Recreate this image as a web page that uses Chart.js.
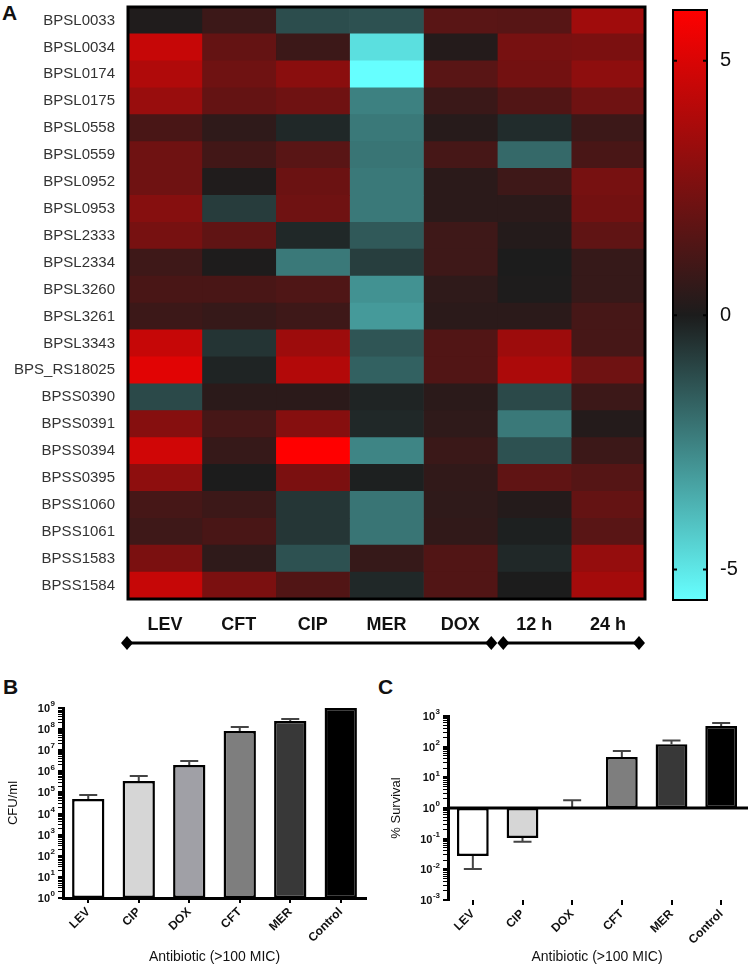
<!DOCTYPE html>
<html>
<head>
<meta charset="utf-8">
<script src="https://cdn.jsdelivr.net/npm/chart.js@4.4.1/dist/chart.umd.min.js"></script>
<style>
  body { margin: 0; background: #fff; }
  #wrap { position: relative; width: 750px; height: 968px; overflow: hidden; font-family: "Liberation Sans", Arial, sans-serif; }
  .panel { position: absolute; font-weight: bold; font-size: 21px; line-height: 21px; color: #111; }
  canvas { position: absolute; }
</style>
</head>
<body>
<div id="wrap">
  <div class="panel" style="left:2px;top:2px">A</div>
  <div class="panel" style="left:3px;top:676px">B</div>
  <div class="panel" style="left:378px;top:676px">C</div>
  <canvas id="heat" width="660" height="660" style="left:0;top:0"></canvas>
  <canvas id="cbar" width="90" height="620" style="left:660px;top:0"></canvas>
  <canvas id="chartB" width="375" height="288" style="left:0;top:680px"></canvas>
  <canvas id="chartC" width="375" height="288" style="left:375px;top:680px"></canvas>
</div>
<script>
// Heatmap (log2 fold change)
const genes = ['BPSL0033', 'BPSL0034', 'BPSL0174', 'BPSL0175', 'BPSL0558', 'BPSL0559', 'BPSL0952', 'BPSL0953',
  'BPSL2333', 'BPSL2334', 'BPSL3260', 'BPSL3261', 'BPSL3343', 'BPS_RS18025', 'BPSS0390', 'BPSS0391',
  'BPSS0394', 'BPSS0395', 'BPSS1060', 'BPSS1061', 'BPSS1583', 'BPSS1584'];
const conditions = ['LEV', 'CFT', 'CIP', 'MER', 'DOX', '12 h', '24 h'];
const lev = [0.1, 4.5, 3.9, 3.3, 1.2, 2.2, 2.2, 2.8, 2.4, 0.9, 1.2, 0.85, 4.5, 5.2, -1.1, 2.8, 4.75, 3.0, 1.1, 0.9, 2.5, 4.5];
const cft = [0.85, 1.9, 2.2, 1.9, 0.5, 1.0, 0.1, -0.8, 1.8, 0.05, 1.2, 0.7, -0.6, -0.2, 0.4, 1.1, 0.7, 0.0, 0.85, 1.2, 0.5, 2.5];
const cip = [-1.2, 0.85, 2.9, 2.2, -0.3, 1.6, 2.1, 2.2, -0.3, -2.3, 1.35, 0.9, 3.4, 4.0, 0.4, 2.8, 6.0, 2.5, -0.65, -0.65, -1.3, 1.4];
const mer = [-1.3, -4.8, -5.6, -2.5, -2.3, -2.2, -2.3, -2.3, -1.5, -0.85, -2.9, -3.1, -1.4, -1.7, -0.2, -0.3, -2.6, -0.1, -2.2, -2.2, 0.7, -0.3];
const dox = [1.6, 0.2, 1.6, 0.8, 0.3, 1.1, 0.4, 0.4, 0.9, 0.9, 0.5, 0.4, 1.4, 1.4, 0.4, 0.5, 0.8, 0.55, 0.5, 0.55, 1.4, 1.4];
const h12 = [1.55, 2.4, 2.3, 1.4, -0.4, -1.9, 0.9, 0.4, 0.2, 0.0, 0.05, 0.4, 3.4, 3.8, -1.1, -2.3, -1.3, 1.8, 0.2, -0.1, -0.3, 0.0];
const h24 = [3.5, 2.5, 3.0, 2.2, 0.85, 1.2, 2.4, 2.3, 1.8, 0.7, 0.7, 1.1, 1.1, 2.2, 0.85, 0.2, 0.85, 1.5, 1.9, 1.6, 3.2, 3.6];
const heatColumns = [lev, cft, cip, mer, dox, h12, h24];

// Color scale
const cbMin = -5.6, cbMax = 6;
const cbTicks = [-5, 0, 5];

// Panel B: CFU/ml
const drugsB = ['LEV', 'CIP', 'DOX', 'CFT', 'MER', 'Control'];
const cfuMean = [4.9e4, 3.5e5, 2.0e6, 8.2e7, 2.4e8, 1e9];
const cfuErr = [7.6e4, 6.0e5, 3.1e6, 1.26e8, 3.0e8, 1e9];

// Panel C: % survival
const drugsC = ['LEV', 'CIP', 'DOX', 'CFT', 'MER', 'Control'];
const survMean = [0.027, 0.105, 1.0, 46, 121, 470];
const survErr = [0.0103, 0.079, 1.8, 72, 160, 590];

const barGreys = ['#ffffff', '#d6d6d6', '#a0a0a6', '#7e7e7e', '#383838', '#000000'];

const FONT = '"Liberation Sans", Arial, sans-serif';
Chart.defaults.font.family = FONT;
Chart.defaults.color = '#111';
Chart.defaults.animation = false;

function mix(a, b, t) { return Math.round(a + (b - a) * t); }
function heatColor(v) {
  if (v >= 0) {
    const t = Math.min(v / cbMax, 1);
    return `rgb(${mix(28, 255, t)},${mix(28, 0, t)},${mix(28, 0, t)})`;
  }
  const t = Math.min(v / cbMin, 1);
  return `rgb(${mix(28, 102, t)},${mix(28, 255, t)},${mix(28, 255, t)})`;
}
function noPad(sc) { sc.paddingTop = 0; sc.paddingBottom = 0; }

// ---- heatmap ----
const heatFrame = {
  id: 'heatFrame',
  afterDatasetsDraw(chart) {
    const { ctx, chartArea: a } = chart;
    ctx.save();
    ctx.strokeStyle = '#000';
    ctx.lineWidth = 3;
    ctx.strokeRect(a.left, a.top, a.right - a.left, a.bottom - a.top);
    ctx.restore();
  },
  afterDraw(chart) {
    const { ctx } = chart;
    const x = chart.scales.x;
    const y = 643;
    const p0 = x.getPixelForValue(0) - 1, p5 = x.getPixelForValue(5), p7 = x.getPixelForValue(7) - 6;
    ctx.save();
    ctx.strokeStyle = '#000';
    ctx.fillStyle = '#000';
    ctx.lineWidth = 3;
    ctx.beginPath();
    ctx.moveTo(p0, y); ctx.lineTo(p5 - 6, y);
    ctx.moveTo(p5 + 6, y); ctx.lineTo(p7, y);
    ctx.stroke();
    [p0, p5 - 6, p5 + 6, p7].forEach(cx => {
      ctx.beginPath();
      ctx.moveTo(cx, y - 7); ctx.lineTo(cx + 6, y); ctx.lineTo(cx, y + 7); ctx.lineTo(cx - 6, y);
      ctx.closePath();
      ctx.fill();
    });
    ctx.restore();
  }
};

new Chart(document.getElementById('heat'), {
  type: 'bar',
  data: {
    labels: genes,
    datasets: heatColumns.map((col, j) => ({
      label: conditions[j],
      data: genes.map(() => 1),
      backgroundColor: col.map(heatColor),
      borderWidth: 0,
      barPercentage: 1,
      categoryPercentage: 1
    }))
  },
  options: {
    indexAxis: 'y',
    responsive: false,
    devicePixelRatio: 1,
    layout: { padding: { top: 7, right: 15, left: 0, bottom: 0 } },
    plugins: { legend: { display: false }, tooltip: { enabled: false } },
    scales: {
      x: {
        type: 'linear', stacked: true, min: 0, max: 7,
        afterBuildTicks: sc => { sc.ticks = conditions.map((c, i) => ({ value: i + 0.5 })); },
        afterFit: sc => { sc.height = 61; sc.paddingLeft = 0; sc.paddingRight = 0; },
        ticks: {
          autoSkip: false, maxRotation: 0, padding: 7,
          callback: v => conditions[Math.floor(v)],
          font: { size: 18, weight: 'bold' }, color: '#111'
        },
        grid: { display: false }, border: { display: false }
      },
      y: {
        stacked: true,
        afterFit: sc => { sc.width = 128; noPad(sc); },
        ticks: { font: { size: 15 }, color: '#333', padding: 5, autoSkip: false },
        grid: { display: false }, border: { display: false }
      }
    }
  },
  plugins: [heatFrame]
});

// ---- colour bar ----
const cbFrame = {
  id: 'cbFrame',
  afterDatasetsDraw(chart) {
    const { ctx, chartArea: a } = chart;
    const ys = chart.scales.y;
    ctx.save();
    ctx.strokeStyle = '#000';
    ctx.lineWidth = 2;
    ctx.strokeRect(a.left, a.top, a.right - a.left, a.bottom - a.top);
    ctx.beginPath();
    cbTicks.forEach(v => {
      const py = ys.getPixelForValue(v);
      ctx.moveTo(a.left, py); ctx.lineTo(a.left + 4, py);
      ctx.moveTo(a.right - 4, py); ctx.lineTo(a.right, py);
    });
    ctx.stroke();
    ctx.restore();
  }
};

new Chart(document.getElementById('cbar'), {
  type: 'bar',
  data: {
    labels: [''],
    datasets: [{
      data: [[cbMin, cbMax]],
      backgroundColor: c => {
        const chart = c.chart;
        if (!chart.chartArea) return '#000';
        const ys = chart.scales.y;
        const g = chart.ctx.createLinearGradient(0, ys.getPixelForValue(cbMin), 0, ys.getPixelForValue(cbMax));
        g.addColorStop(0, heatColor(cbMin));
        g.addColorStop((0 - cbMin) / (cbMax - cbMin), heatColor(0));
        g.addColorStop(1, heatColor(cbMax));
        return g;
      },
      borderWidth: 0,
      barPercentage: 1,
      categoryPercentage: 1
    }]
  },
  options: {
    responsive: false,
    devicePixelRatio: 1,
    layout: { padding: { top: 10, bottom: 20, left: 13, right: 0 } },
    plugins: { legend: { display: false }, tooltip: { enabled: false } },
    scales: {
      x: { display: false },
      y: {
        position: 'right', min: cbMin, max: cbMax,
        afterBuildTicks: sc => { sc.ticks = cbTicks.map(v => ({ value: v })); },
        afterFit: sc => { sc.width = 43; noPad(sc); },
        ticks: { font: { size: 20 }, color: '#111', padding: 5 },
        grid: { display: false }, border: { display: false }
      }
    }
  },
  plugins: [cbFrame]
});

// ---- log bar panels ----
function logTicks(sc, lo, hi) {
  const t = [];
  for (let e = lo; e <= hi; e++) {
    for (let k = 1; k <= 9; k++) {
      if (e === hi && k > 1) break;
      t.push({ value: k * Math.pow(10, e), major: k === 1 });
    }
  }
  sc.ticks = t;
}

// "10" with a raised exponent, drawn beside each decade tick
const powLabels = {
  id: 'powLabels',
  afterDraw(chart, args, opts) {
    const { ctx, chartArea: a } = chart;
    const ys = chart.scales.y;
    ctx.save();
    ctx.fillStyle = '#111';
    ctx.textBaseline = 'middle';
    ctx.textAlign = 'right';
    for (let e = opts.lo; e <= opts.hi; e++) {
      const py = ys.getPixelForValue(Math.pow(10, e));
      const xr = a.left - 8;
      ctx.font = 'bold 8px ' + FONT;
      const expTxt = String(e);
      const w = ctx.measureText(expTxt).width;
      ctx.fillText(expTxt, xr, py - 4);
      ctx.font = 'bold 11px ' + FONT;
      ctx.fillText('10', xr - w - 0.5, py + 1);
    }
    ctx.restore();
  }
};

function errorPlugin(means, errs, baseline) {
  return {
    id: 'errs',
    afterDatasetsDraw(chart) {
      const { ctx, chartArea: a } = chart;
      const xs = chart.scales.x, ys = chart.scales.y;
      ctx.save();
      ctx.strokeStyle = '#444';
      ctx.lineWidth = 2;
      means.forEach((m, i) => {
        const px = xs.getPixelForValue(i);
        const y0 = ys.getPixelForValue(m), y1 = ys.getPixelForValue(errs[i]);
        if (Math.abs(y1 - y0) < 1) return;
        ctx.beginPath();
        ctx.moveTo(px, y0); ctx.lineTo(px, y1);
        ctx.moveTo(px - 9, y1); ctx.lineTo(px + 9, y1);
        ctx.stroke();
      });
      if (baseline) {
        const py = ys.getPixelForValue(baseline);
        ctx.strokeStyle = '#000';
        ctx.lineWidth = 3;
        ctx.beginPath();
        ctx.moveTo(a.left, py); ctx.lineTo(a.right + 2, py);
        ctx.stroke();
      }
      ctx.restore();
    }
  };
}

function logBarChart(id, labels, means, errs, opts) {
  return new Chart(document.getElementById(id), {
    type: 'bar',
    data: {
      labels: labels,
      datasets: [{
        data: means.map(v => [1, v]),
        backgroundColor: barGreys,
        borderColor: '#000',
        borderWidth: 2.5,
        borderSkipped: false,
        barPercentage: 0.64,
        categoryPercentage: 1
      }]
    },
    options: {
      responsive: false,
      devicePixelRatio: 1,
      layout: { padding: opts.padding },
      plugins: {
        legend: { display: false }, tooltip: { enabled: false },
        powLabels: { lo: opts.lo, hi: opts.hi }
      },
      scales: {
        x: {
          afterFit: sc => { sc.height = opts.xHeight; },
          ticks: { minRotation: 45, maxRotation: 45, font: { size: 12, weight: 'bold' }, color: '#111', padding: 2 },
          grid: { offset: false, drawOnChartArea: false, drawTicks: true, tickLength: 5, lineWidth: 2, color: '#000' },
          border: { display: opts.xBorder, width: 3, color: '#000' },
          title: { display: true, text: 'Antibiotic (>100 MIC)', font: { size: 14 }, color: '#111', padding: { top: 2, bottom: 2 } }
        },
        y: {
          type: 'logarithmic', min: Math.pow(10, opts.lo), max: Math.pow(10, opts.hi),
          afterBuildTicks: sc => logTicks(sc, opts.lo, opts.hi),
          afterFit: sc => { sc.width = opts.yWidth; },
          ticks: { display: false, autoSkip: false },
          grid: {
            drawOnChartArea: false, drawTicks: true, tickLength: 5, color: '#000',
            lineWidth: c => (c.tick && c.tick.major ? 2 : 1)
          },
          border: { width: 3, color: '#000' },
          title: { display: true, text: opts.yTitle, font: { size: 13 }, color: '#111', padding: { top: opts.titlePad, bottom: 0 } }
        }
      }
    },
    plugins: [errorPlugin(means, errs, opts.baseline), powLabels]
  });
}

logBarChart('chartB', drugsB, cfuMean, cfuErr, {
  lo: 0, hi: 9, yTitle: 'CFU/ml', yWidth: 63, xHeight: 70, xBorder: true, baseline: null, titlePad: 6,
  padding: { top: 28, right: 9, left: 0, bottom: 0 }
});

logBarChart('chartC', drugsC, survMean, survErr, {
  lo: -3, hi: 3, yTitle: '% Survival', yWidth: 73, xHeight: 68, xBorder: false, baseline: 1, titlePad: 14,
  padding: { top: 36, right: 4, left: 0, bottom: 0 }
});
</script>
</body>
</html>
